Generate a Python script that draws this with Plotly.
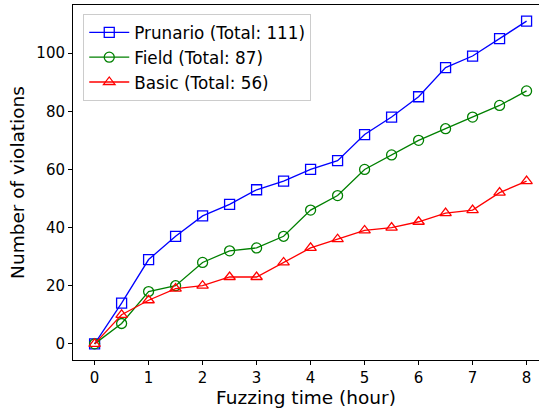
import plotly.graph_objects as go

hours = [0, 0.5, 1, 1.5, 2, 2.5, 3, 3.5, 4, 4.5, 5, 5.5, 6, 6.5, 7, 7.5, 8]
prunario = [0, 14, 29, 37, 44, 48, 53, 56, 60, 63, 72, 78, 85, 95, 99, 105, 111]
field = [0, 7, 18, 20, 28, 32, 33, 37, 46, 51, 60, 65, 70, 74, 78, 82, 87]
basic = [0, 10, 15, 19, 20, 23, 23, 28, 33, 36, 39, 40, 42, 45, 46, 52, 56]

series = [
    ("Prunario (Total: 111)", prunario, "blue", "square-open"),
    ("Field (Total: 87)", field, "green", "circle-open"),
    ("Basic (Total: 56)", basic, "red", "triangle-up-open"),
]

fig = go.Figure()
for name, vals, color, sym in series:
    fig.add_trace(go.Scatter(
        x=hours, y=vals, name=name, mode="lines+markers", cliponaxis=False,
        line=dict(color=color, width=1.3),
        marker=dict(symbol=sym, size=10, color=color, line=dict(width=1.3, color=color)),
    ))

fig.update_layout(
    width=539, height=412,
    margin=dict(l=72.5, r=0, t=5, b=52, autoexpand=False),
    plot_bgcolor="white", paper_bgcolor="white",
    font=dict(family="DejaVu Sans", size=15, color="black"),
    showlegend=True,
    legend=dict(
        x=0.022, y=0.975, xanchor="left", yanchor="top",
        bgcolor="rgba(255,255,255,0.8)", bordercolor="#cccccc", borderwidth=1,
        font=dict(size=16.8), tracegroupgap=0, itemwidth=40,
    ),
    xaxis=dict(
        range=[-0.4, 8.23], tickmode="array", tickvals=list(range(0, 9)),
        showgrid=False, zeroline=False, showline=True, linecolor="black", linewidth=1,
        mirror=True, ticks="outside", ticklen=4, tickcolor="black",
        automargin=False,
        title=dict(text="Fuzzing time (hour)", font=dict(size=18.5), standoff=4),
    ),
    yaxis=dict(
        range=[-5.55, 116.55], tickmode="array", tickvals=[0, 20, 40, 60, 80, 100],
        showgrid=False, zeroline=False, showline=True, linecolor="black", linewidth=1,
        ticks="outside", ticklen=4, tickcolor="black",
        automargin=False,
        title=dict(text="Number of violations", font=dict(size=18.5), standoff=6),
    ),
)

fig.write_html(
    "out.html",
    config={"displayModeBar": False},
    post_script="document.body.style.margin='0';document.body.style.overflow='hidden';",
)
